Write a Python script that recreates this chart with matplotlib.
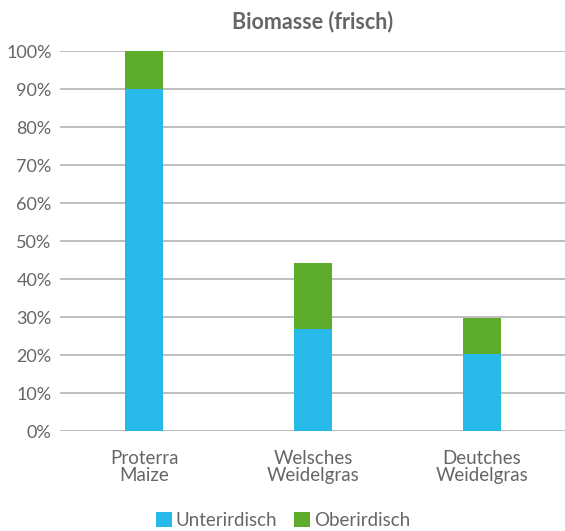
import matplotlib.pyplot as plt
import numpy as np

categories = ['Proterra\nMaize', 'Welsches\nWeidelgras', 'Deutches\nWeidelgras']
unterirdisch = [90.0, 26.8, 20.3]
oberirdisch = [10.0, 17.4, 9.4]
yticks = list(range(0, 101, 10))

BLUE = '#27B9E8'
GREEN = '#5DAD2A'
TEXT = '#666666'
GRID = '#B3B3B3'

plt.rcParams['font.family'] = ['Lato', 'DejaVu Sans']

fig = plt.figure(figsize=(5.65, 5.31), dpi=100)
ax = fig.add_axes([60 / 565, 100 / 531, 506 / 565, 380 / 531])

x = np.arange(len(categories))
width = 0.225
ax.bar(x, unterirdisch, width, color=BLUE, label='Unterirdisch', zorder=3)
ax.bar(x, oberirdisch, width, bottom=unterirdisch, color=GREEN,
       label='Oberirdisch', zorder=3)

ax.set_xlim(-0.5, len(categories) - 0.5)
ax.set_ylim(0, 100)
ax.set_yticks(yticks)
ax.set_yticklabels([f'{t}%' for t in yticks], fontsize=13, color=TEXT)
ax.set_xticks(x)
ax.set_xticklabels(categories, fontsize=13.5, color=TEXT, linespacing=0.98)
ax.tick_params(axis='both', length=0)
ax.tick_params(axis='x', pad=14)
ax.tick_params(axis='y', pad=6)
ax.grid(axis='y', color=GRID, linewidth=1.2, zorder=0)
for s in ax.spines.values():
    s.set_visible(False)

ax.set_title('Biomasse (frisch)', fontsize=15.5, fontweight='bold', color=TEXT,
             pad=16)

fig.legend(loc='lower center', bbox_to_anchor=(283 / 565, -0.028), ncol=2,
           frameon=False, prop={'size': 13.5},
           handlelength=0.85, handleheight=0.85,
           handletextpad=0.2, columnspacing=0.9, labelcolor=TEXT)

fig.savefig('out.png', dpi=100)
